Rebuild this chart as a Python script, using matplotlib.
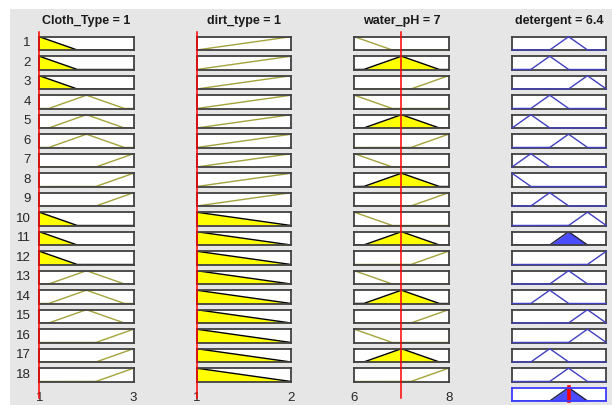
import numpy as np
import matplotlib.pyplot as plt
from matplotlib.patches import Rectangle

plt.rcParams['font.family'] = ['Liberation Sans', 'DejaVu Sans']

# inputs and output of the fuzzy system
in_names = ['Cloth_Type', 'dirt_type', 'water_pH']
in_values = [1, 1, 7]
in_ranges = [(1, 3), (1, 2), (6, 8)]
out_name = 'detergent'
out_range = (4, 8)

# membership functions (trimf a, b, c)
cloth_mf = [[1, 1, 1.8], [1.2, 2, 2.8], [2.2, 3, 3]]
dirt_mf = [[1, 1, 2], [1, 2, 2]]
ph_mf = [[6, 6, 6.8], [6.2, 7, 7.8], [7.2, 8, 8]]
det_mf = [[4, 4, 4.8], [4, 4.8, 5.6], [4.8, 5.6, 6.4],
          [5.6, 6.4, 7.2], [6.4, 7.2, 8], [7.2, 8, 8]]

# rule base: index of the mf used in each of the 18 rules
cloth_rule = [0, 0, 0, 1, 1, 1, 2, 2, 2, 0, 0, 0, 1, 1, 1, 2, 2, 2]
dirt_rule = [1, 1, 1, 1, 1, 1, 1, 1, 1, 0, 0, 0, 0, 0, 0, 0, 0, 0]
ph_rule = [0, 1, 2, 0, 1, 2, 0, 1, 2, 0, 1, 2, 0, 1, 2, 0, 1, 2]
det_rule = [3, 2, 4, 2, 1, 3, 1, 0, 2, 4, 3, 5, 3, 2, 4, 4, 2, 3]


def trimf(x, p):
    a, b, c = p
    x = np.asarray(x, dtype=float)
    left = np.ones_like(x) if b == a else (x - a) / (b - a)
    right = np.ones_like(x) if c == b else (c - x) / (c - b)
    return np.clip(np.minimum(left, right), 0, 1)


W, H = 612, 405
col_x = [39.3, 196.7, 354.3, 512]
box_w = 94.3
top0 = 36.7
step = 19.5
box_h = 13.3
olive = '#a3a33d'
edge = '#404040'
blue_line = '#4040c0'
blue_fill = '#4b4bff'


def rect(x, top, w, h):
    return [x / W, 1 - (top + h) / H, w / W, h / H]


fig = plt.figure(figsize=(6.12, 4.05), dpi=100)
fig.patch.set_facecolor('white')
fig.patches.append(Rectangle((10 / W, 0), 1, 1 - 9 / H, transform=fig.transFigure,
                             facecolor='#e6e6e6', edgecolor='none', zorder=-10))

all_mfs = [cloth_mf, dirt_mf, ph_mf]
all_rules = [cloth_rule, dirt_rule, ph_rule]
xo = np.linspace(out_range[0], out_range[1], 801)
agg = np.zeros_like(xo)


def box_axes(c, r, xlim):
    ax = fig.add_axes(rect(col_x[c], top0 + step * r, box_w, box_h))
    ax.set_xlim(xlim)
    ax.set_ylim(0, 1)
    ax.set_xticks([])
    ax.set_yticks([])
    ax.set_facecolor('white')
    for s in ax.spines.values():
        s.set_color(edge)
        s.set_linewidth(1.3)
    return ax


for r in range(len(det_rule)):
    strength = 1.0
    for c in range(3):
        lo, hi = in_ranges[c]
        mf = all_mfs[c][all_rules[c][r]]
        ax = box_axes(c, r, (lo, hi))
        x = np.linspace(lo, hi, 401)
        y = trimf(x, mf)
        deg = float(trimf([in_values[c]], mf)[0])
        strength = min(strength, deg)
        if deg > 0:
            yc = np.minimum(y, deg)
            ax.fill_between(x, yc, color='yellow', lw=0)
            ax.plot(x, yc, color='black', lw=1)
        else:
            ax.plot(x, y, color=olive, lw=1)
        if c == 0:
            ax.text(-0.09, 0.5, str(r + 1), transform=ax.transAxes,
                    ha='right', va='center', fontsize=9.5, color='#262626')

    ax = box_axes(3, r, out_range)
    y = trimf(xo, det_mf[det_rule[r]])
    if strength > 0:
        yc = np.minimum(y, strength)
        ax.fill_between(xo, yc, color=blue_fill, lw=0)
        ax.plot(xo, yc, color='#202040', lw=1)
        agg = np.maximum(agg, yc)
    else:
        ax.plot(xo, y, color=blue_line, lw=1, zorder=3, clip_on=False)

out_value = np.sum(xo * agg) / np.sum(agg)

# aggregated output row
ax = box_axes(3, len(det_rule), out_range)
for s in ax.spines.values():
    s.set_color('#3c3cff')
ax.fill_between(xo, agg, color=blue_fill, lw=0)
ax.plot(xo, agg, color='#202040', lw=1)
ax.axvline(out_value, ymin=0, ymax=1.05, color='red', lw=2.6, clip_on=False)

# red input lines and range labels
for c in range(3):
    lo, hi = in_ranges[c]
    ax = fig.add_axes(rect(col_x[c], 31.7, box_w, 398 - 31.7))
    ax.patch.set_alpha(0)
    ax.set_xlim(lo, hi)
    ax.set_ylim(0, 1)
    for s in ax.spines.values():
        s.set_visible(False)
    ax.axvline(in_values[c], color='red', lw=1.1, clip_on=False)
    ax.set_yticks([])
    ax.set_xticks([lo, hi])
    ax.set_xticklabels([f'{lo:g}', f'{hi:g}'], fontsize=9.5, color='#262626')
    ax.tick_params(axis='x', length=0, pad=-4)

# column titles
titles = [f'{n} = {v:g}' for n, v in zip(in_names, in_values)]
titles.append(f'{out_name} = {out_value:.1f}')
for c, t in enumerate(titles):
    fig.text((col_x[c] + box_w / 2) / W, 1 - 21 / H, t, ha='center', va='center',
             fontsize=9, fontweight='bold', color='#1a1a1a')

fig.savefig('out.png', dpi=100)
